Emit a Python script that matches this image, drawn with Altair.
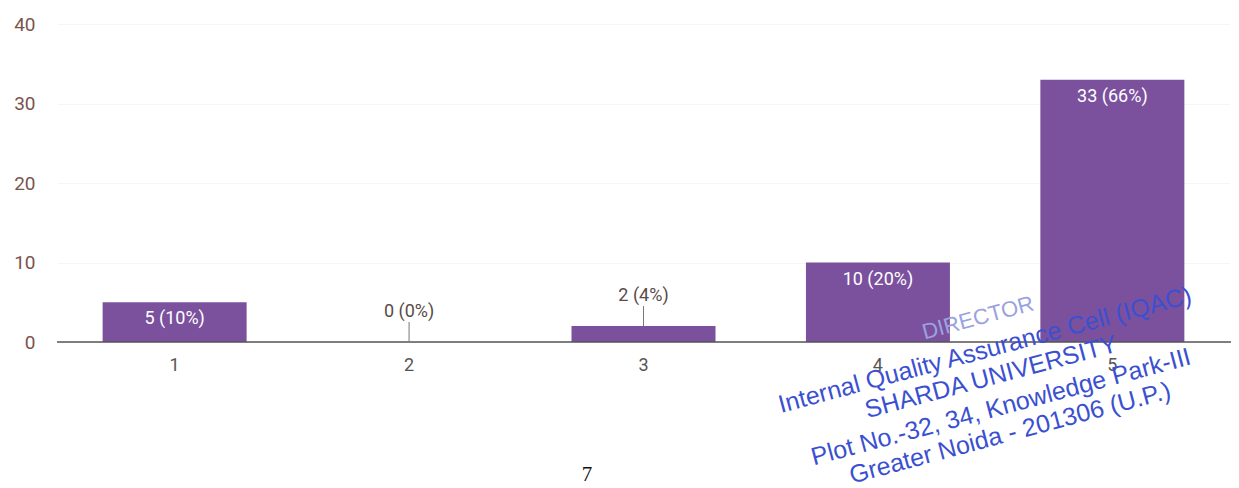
import altair as alt
import pandas as pd

categories = ["1", "2", "3", "4", "5"]
counts = [5, 0, 2, 10, 33]
labels = ["5 (10%)", "0 (0%)", "2 (4%)", "10 (20%)", "33 (66%)"]
inside = [True, False, False, True, True]

stamp_lines = [
    "DIRECTOR",
    "Internal Quality Assurance Cell (IQAC)",
    "SHARDA UNIVERSITY",
    "Plot No.-32, 34, Knowledge Park-III",
    "Greater Noida - 201306 (U.P.)",
]
page_number = "7"

df = pd.DataFrame({"cat": categories, "count": counts, "label": labels, "inside": inside})

PURPLE = "#7b519e"
X0, Y0 = 58, 24  # plot origin on the page

x_enc = alt.X("cat:N", sort=categories, title=None,
              scale=alt.Scale(paddingInner=0.385, paddingOuter=0.19),
              axis=alt.Axis(labelAngle=0, labelColor="#555555", labelFontSize=18,
                            labelFont="Roboto", ticks=False, domain=False,
                            labelPadding=14, grid=False))
y_enc = alt.Y("count:Q", title=None,
              scale=alt.Scale(domain=[0, 40]),
              axis=alt.Axis(values=[0, 10, 20, 30, 40], labelColor="#7a544d", labelFontSize=19,
                            labelFont="Roboto", ticks=False, domain=False, labelPadding=23,
                            gridColor="#f5f5f5", gridWidth=1))

base = alt.Chart(df)

bars = base.mark_bar(color=PURPLE, size=144).encode(x=x_enc, y=y_enc)

baseline = alt.Chart(pd.DataFrame({"v": [0]})).mark_rule(
    color="#555555", strokeWidth=1.5
).encode(x=alt.value(-1), x2=alt.value(1181), y="v:Q")

text_in = base.transform_filter("datum.inside").mark_text(
    color="white", fontSize=18, font="Roboto", dy=17, baseline="middle"
).encode(x=alt.X("cat:N", sort=categories), y="count:Q", text="label:N")

text_out = base.transform_filter("!datum.inside").mark_text(
    color="#5a4a48", fontSize=18, font="Roboto", dy=-30, baseline="middle"
).encode(x=alt.X("cat:N", sort=categories), y="count:Q", text="label:N")

leader = base.transform_filter("!datum.inside").mark_rule(
    color="#777777", strokeWidth=1, yOffset=-20
).encode(x=alt.X("cat:N", sort=categories), y="count:Q", y2=alt.Y2("count"))

# stamp overlay
stamp_pos = [(978, 318, "#9aa3e0", 22), (985, 350, "#3a50d0", 25), (991, 377, "#3a50d0", 25),
             (1001, 407, "#3a50d0", 25), (1010, 433, "#3a50d0", 25)]
stamp_layers = []
for line, (px, py, col, fs) in zip(stamp_lines, stamp_pos):
    stamp_layers.append(
        alt.Chart(pd.DataFrame({"t": [line]})).mark_text(
            color=col, fontSize=fs, font="Liberation Sans", angle=345,
            align="center", baseline="middle"
        ).encode(x=alt.value(px - X0), y=alt.value(py - Y0), text="t:N")
    )

page = alt.Chart(pd.DataFrame({"t": [page_number]})).mark_text(
    color="#111111", fontSize=21, font="Liberation Serif", align="center", baseline="middle"
).encode(x=alt.value(587 - X0), y=alt.value(475 - Y0), text="t:N")

chart = alt.layer(bars, baseline, leader, text_in, text_out, *stamp_layers, page).properties(
    width=1171, height=318,
    padding={"left": 50, "top": 16, "right": 2, "bottom": 146},
    autosize=alt.AutoSizeParams(type="none"),
).configure(background="white", view=alt.ViewConfig(stroke=None))

chart.save("out.html", embed_options={"renderer": "svg", "actions": False})
